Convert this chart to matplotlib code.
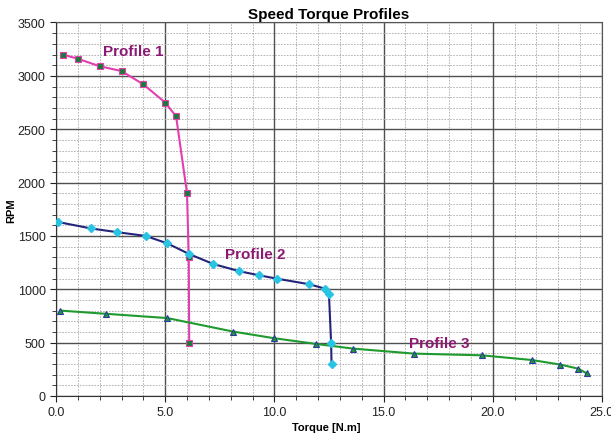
import matplotlib.pyplot as plt
from matplotlib.ticker import MultipleLocator, FormatStrFormatter

plt.rcParams['font.family'] = ['Liberation Sans', 'DejaVu Sans']

p1_torque = [0.3, 1.0, 2.0, 3.0, 4.0, 5.0, 5.5, 6.0, 6.08, 6.1]
p1_rpm = [3200, 3160, 3090, 3045, 2920, 2750, 2620, 1900, 1300, 500]

p2_torque = [0.1, 1.6, 2.8, 4.1, 5.1, 6.1, 7.2, 8.4, 9.3, 10.1, 11.6, 12.3, 12.5, 12.6, 12.62]
p2_rpm = [1630, 1570, 1535, 1500, 1430, 1330, 1237, 1169, 1131, 1100, 1047, 1007, 960, 497, 300]

p3_torque = [0.2, 2.3, 5.1, 8.1, 10.0, 11.9, 13.6, 16.4, 19.5, 21.8, 23.1, 23.9, 24.3]
p3_rpm = [800, 770, 730, 604, 541, 488, 444, 397, 381, 337, 294, 257, 213]

labels = ["Profile 1", "Profile 2", "Profile 3"]
label_pos = [(2.15, 3230), (7.75, 1330), (16.15, 500)]

fig = plt.figure(figsize=(6.11, 4.35), dpi=100)
ax = fig.add_axes([0.0917, 0.0874, 0.8933, 0.8586])

ax.plot(p1_torque, p1_rpm, color='#e23fae', lw=1.5, marker='s', ms=4.5,
        mfc='#1b7a3a', mec='#e23fae', mew=0.8, zorder=3)
ax.plot(p2_torque, p2_rpm, color='#24247a', lw=1.5, marker='D', ms=4,
        mfc='#29c3e3', mec='#29c3e3', zorder=4)
ax.plot(p3_torque, p3_rpm, color='#1e9a2e', lw=1.5, marker='^', ms=5,
        mfc='#1e9a2e', mec='#2a3aa0', mew=0.8, zorder=3)

for lab, (x, y) in zip(labels, label_pos):
    ax.text(x, y, lab, color='#8c1a72', fontsize=11, fontweight='bold',
            ha='left', va='center', zorder=5)

ax.set_xlim(0, 25)
ax.set_ylim(0, 3500)
ax.xaxis.set_major_locator(MultipleLocator(5))
ax.xaxis.set_minor_locator(MultipleLocator(1))
ax.yaxis.set_major_locator(MultipleLocator(500))
ax.yaxis.set_minor_locator(MultipleLocator(100))
ax.xaxis.set_major_formatter(FormatStrFormatter('%.1f'))

ax.grid(which='major', color='#505050', lw=1.0)
ax.grid(which='minor', color='#aaaaaa', lw=0.6, ls=(0, (2, 1.5)))
ax.set_axisbelow(True)

ax.tick_params(which='both', direction='out', labelsize=9, colors='#222222')
ax.tick_params(which='major', length=4)
ax.tick_params(which='minor', length=3)
for s in ['top', 'right']:
    ax.spines[s].set_color('#555555')
for s in ['left', 'bottom']:
    ax.spines[s].set_color('#333333')

ax.set_title("Speed Torque Profiles", fontsize=11, fontweight='bold', pad=3)
ax.set_xlabel("Torque [N.m]", fontsize=8, fontweight='bold')
ax.set_ylabel("RPM", fontsize=8, fontweight='bold')
ax.xaxis.set_label_coords(0.495, -0.07)
ax.yaxis.set_label_coords(-0.073, 0.5)

fig.savefig("out.png", dpi=100)
